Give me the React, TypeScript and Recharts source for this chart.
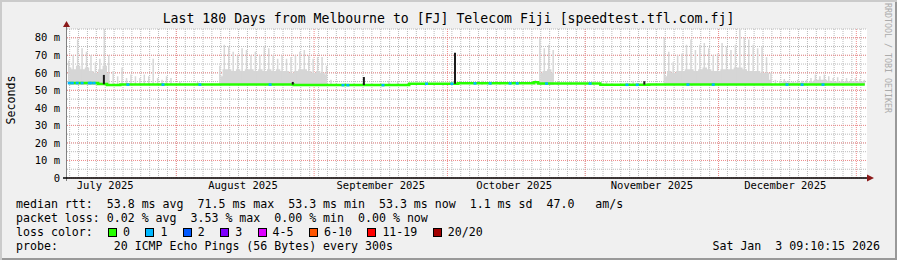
import { ComposedChart, Area, Bar, Line, Scatter, XAxis, YAxis, CartesianGrid, ReferenceLine } from 'recharts';

// time axis is in days since the start of the window (Jul 7 2025 09:10)
const monthLabels = ['July 2025', 'August 2025', 'September 2025', 'October 2025', 'November 2025', 'December 2025'];
const monthMid = [8.6, 39.6, 70.6, 100.6, 131.6, 161.6];
const monthStart = [24.6, 55.6, 85.6, 116.6, 146.6, 177.6];
const yTicks = [0, 10, 20, 30, 40, 50, 60, 70, 80];

// median rtt per day (ms)
const medianRtt = [
  54.2, 54.2, 54.2, 54.2, 54.2, 54.2, 54.2, 53.6, 53.6, 53.0,
  53.0, 53.0, 53.3, 53.3, 53.3, 53.3, 53.3, 53.3, 53.3, 53.3,
  53.3, 53.3, 53.3, 53.3, 53.3, 53.3, 53.3, 53.3, 53.3, 53.3,
  53.3, 53.3, 53.3, 53.3, 53.3, 53.3, 53.3, 53.3, 53.3, 53.3,
  53.3, 53.3, 53.3, 53.3, 53.3, 53.3, 53.3, 53.3, 53.3, 53.3,
  53.3, 53.0, 53.0, 53.0, 53.0, 53.0, 53.0, 53.0, 53.0, 53.0,
  53.0, 53.0, 53.0, 53.0, 53.0, 53.0, 53.0, 53.0, 53.0, 53.0,
  53.0, 53.0, 53.0, 53.0, 53.0, 53.0, 53.0, 53.8, 53.8, 53.8,
  53.8, 53.8, 53.8, 53.8, 53.8, 53.8, 53.8, 53.8, 54.0, 54.0,
  54.0, 54.0, 54.0, 54.0, 54.0, 54.0, 54.0, 54.0, 54.0, 54.0,
  54.0, 54.0, 54.0, 54.0, 54.0, 54.6, 53.9, 53.9, 53.9, 53.9,
  53.9, 53.9, 53.9, 53.9, 53.9, 53.9, 53.9, 53.9, 53.9, 53.9,
  53.2, 53.2, 53.2, 53.2, 53.2, 53.2, 53.2, 53.2, 53.2, 53.2,
  53.2, 53.3, 53.3, 53.3, 53.3, 53.3, 53.3, 53.3, 53.3, 53.3,
  53.3, 53.3, 53.3, 53.3, 53.3, 53.3, 53.3, 53.3, 53.3, 53.3,
  53.3, 53.3, 53.3, 53.3, 53.3, 53.3, 53.3, 53.3, 53.3, 53.3,
  53.3, 53.3, 53.3, 53.3, 53.3, 53.3, 53.3, 53.3, 53.3, 53.3,
  53.3, 53.3, 53.3, 53.3, 53.3, 53.3, 53.3, 53.3, 53.3, 53.3,
];

// dense part of the smoke per day (ms)
const smokeBody = [
  63, 62, 64, 62, 63, 61, 60, 62, 64, 60,
  null, null, null, null, null, null, null, null, null, null,
  null, null, null, null, null, null, null, null, null, null,
  null, null, null, null, 58, 62, 62, 61, 62, 61,
  62, 62, 61, 62, 61, 62, 61, 62, 61, 61,
  60, 61, 62, 62, 61, 60, 61, 60, 59, null,
  null, null, null, null, null, null, null, null, null, null,
  null, null, null, null, null, null, null, null, null, null,
  null, null, null, null, null, null, null, null, null, null,
  null, null, null, null, null, null, null, null, null, null,
  null, null, null, null, null, null, 60, 61, 62, 60,
  null, null, null, null, null, null, null, null, null, null,
  null, null, null, null, null, null, null, null, null, null,
  null, null, null, null, 58, 61, 60, 61, 61, 62,
  62, 61, 62, 63, 62, 61, 61, 62, 62, 62,
  63, 63, 62, 61, 61, 61, 60, 60, 56, null,
  54.5, 55, 54.5, 54.5, 54.5, 54.5, 54.5, 55, 56, 56,
  56, 55.5, 55, 55, 55, 55, 55, 55, 55, 55,
];

// highest smoke spike per day (ms)
const smokePeak = [
  67, 70, 79, 74, 72, 70, 66, 68, 85, 70,
  61, 58, 63, 57, 59, 58, 57, 59, 58, 68,
  57, 56, 58, 57, null, 55, null, null, null, 55,
  null, null, null, null, 64, 76, 75, 72, 70, 74,
  73, 70, 72, 70, 75, 74, 70, 68, 70, 68,
  69, 70, 72, 73, 70, 68, 69, 69, 64, 56,
  null, null, null, null, null, null, null, null, null, null,
  null, null, 55.5, null, 55, null, null, null, null, null,
  null, null, null, null, null, null, null, null, null, null,
  null, null, null, 55.5, null, 55, null, 55.5, null, null,
  null, null, null, null, null, 56, 80, 74, 76, 73,
  55, null, null, 55, null, null, null, null, 55.2, null,
  null, 55, null, null, null, null, null, 55.5, null, null,
  null, null, null, null, 80, 72, 66, 70, 71, 76,
  79, 73, 76, 77, 74, 70, 71, 77, 75, 73,
  76, 85, 80, 79, 76, 74, 75, 69, 60, 56,
  55.5, 56.5, 55.5, 55, 56, 55.5, 56, 57, 59, 58,
  59, 58, 57, 57.5, 56.5, 57, 56.5, 57, 56.5, 56,
];
const smokeFloor = 53;

// samples where the median was drawn in the 1-loss colour
const lossOneDays = [0.5, 1.2, 2.3, 3.4, 5.0, 5.4, 6.1, 13.7, 21.6, 29.9, 45.7, 62.1, 63.2, 71.1, 80.9,
  86.6, 91.8, 95.2, 99.7, 101.3, 107.9, 117.7, 126.0, 128.3, 139.7, 145.4, 162.0, 165.4, 170.1];

// dark median spikes: day, from, to (ms)
const darkSpikes = [
  { day: 8.3, lo: 53.5, hi: 58.8 },
  { day: 50.8, lo: 53.3, hi: 54.8 },
  { day: 66.8, lo: 53.0, hi: 57.6 },
  { day: 87.3, lo: 53.8, hi: 71.5 },
  { day: 129.9, lo: 53.3, hi: 55.2 },
];

const lossColors = [
  { label: '0', color: '#26ff00' },
  { label: '1', color: '#00b8ff' },
  { label: '2', color: '#0059ff' },
  { label: '3', color: '#7e00ff' },
  { label: '4-5', color: '#dd00ff' },
  { label: '6-10', color: '#ff5500' },
  { label: '11-19', color: '#ff0000' },
  { label: '20/20', color: '#a10000' },
];

const chartData = medianRtt.map((m, d) => ({
  x: d + 0.5,
  median: m,
  body: smokeBody[d] == null ? null : [smokeFloor, smokeBody[d]],
  peak: smokePeak[d] == null ? null : [smokeFloor, smokePeak[d]],
}));

const speckData = lossOneDays.map((d) => ({ x: d, y: medianRtt[Math.floor(d)], color: lossColors[1].color }));

const minorDays: number[] = [];
for (let d = 0.6; d < 180; d += 2) minorDays.push(d);
const minorMs: number[] = [];
for (let v = 5; v <= 85; v += 5) minorMs.push(v);

// legend item positions: box, gap, label, gap
const lossItemLeft: number[] = [];
{
  let left = 108;
  for (const l of lossColors) {
    lossItemLeft.push(left);
    left += 15 + 7 * l.label.length + 15.4;
  }
}

const mono = '"DejaVu Sans Mono", monospace';
const smokeGray = '#d6d6d6';

export default function App() {
  return (
    <div
      style={{
        position: 'absolute',
        left: 0,
        top: 0,
        width: 897,
        height: 260,
        background: '#f0f0f0',
        boxShadow: 'inset 2px 2px 0 #cbcbcb, inset -2px -2px 0 #999999',
        fontFamily: mono,
        color: '#000',
        overflow: 'hidden',
      }}
    >
      <ComposedChart
        width={897}
        height={260}
        data={chartData}
        margin={{ top: 29, right: 30, bottom: 0, left: 7 }}
        style={{ position: 'absolute', left: 0, top: 0 }}
      >
        <CartesianGrid
          fill="#ffffff"
          stroke="#bababa"
          strokeDasharray="1 1"
          horizontalValues={minorMs}
          verticalValues={minorDays}
        />
        <CartesianGrid stroke="#f08c8c" strokeDasharray="1 1" horizontalValues={yTicks} verticalValues={monthStart} />
        <XAxis
          dataKey="x"
          type="number"
          domain={[0, 180]}
          ticks={monthMid}
          tickFormatter={(v) => monthLabels[monthMid.indexOf(v)]}
          tick={{ fontSize: 10.5, fontFamily: mono, fill: '#000' }}
          tickLine={false}
          tickSize={4}
          tickMargin={0}
          axisLine={false}
          height={82}
          interval={0}
        />
        <XAxis xAxisId="s" dataKey="x" type="number" domain={[0, 180]} hide />
        <YAxis
          type="number"
          domain={[0, 85]}
          ticks={yTicks}
          tickFormatter={(v) => (v === 0 ? '0' : `${v} m`)}
          tick={{ fontSize: 10.5, fontFamily: mono, fill: '#000' }}
          tickLine={false}
          tickSize={7}
          tickMargin={0}
          axisLine={false}
          width={60}
          interval={0}
        />
        <Area
          dataKey="body"
          type="step"
          stroke="none"
          fill={smokeGray}
          fillOpacity={1}
          isAnimationActive={false}
        />
        <Bar dataKey="peak" fill={smokeGray} barSize={1.5} isAnimationActive={false} />
        <Line
          dataKey="median"
          type="step"
          stroke="#26ff00"
          strokeWidth={2.5}
          dot={false}
          isAnimationActive={false}
        />
        <Scatter
          xAxisId="s"
          data={speckData}
          dataKey="y"
          isAnimationActive={false}
          shape={(p: any) => <rect x={p.cx - 1.5} y={p.cy - 1.2} width={3} height={2.5} fill={p.payload.color} />}
        />
        {darkSpikes.map((s) => (
          <ReferenceLine
            key={s.day}
            xAxisId="s"
            segment={[{ x: s.day, y: s.lo }, { x: s.day, y: s.hi }]}
            stroke="#1a1a1a"
            strokeWidth={2}
          />
        ))}
      </ComposedChart>

      {/* axes with their arrows */}
      <svg width={897} height={260} style={{ position: 'absolute', left: 0, top: 0, pointerEvents: 'none' }}>
        <line x1={66.5} y1={26} x2={66.5} y2={181} stroke="#808080" />
        <line x1={63} y1={178} x2={868} y2={178} stroke="#000" strokeWidth={1.5} />
        <polygon points="63,27 70,27 66.5,21" fill="#8b1a1a" />
        <polygon points="867,174.5 867,181.5 874,178" fill="#8b1a1a" />
      </svg>

      <div
        style={{
          position: 'absolute',
          left: 0,
          width: 897,
          top: 11,
          textAlign: 'center',
          fontSize: 13.2,
          lineHeight: '16px',
          whiteSpace: 'pre',
        }}
      >
        Last 180 Days from Melbourne to [FJ] Telecom Fiji [speedtest.tfl.com.fj]
      </div>

      <div
        style={{
          position: 'absolute',
          left: 11,
          top: 100,
          transform: 'translate(-50%, -50%) rotate(-90deg)',
          fontSize: 11.6,
          whiteSpace: 'pre',
        }}
      >
        Seconds
      </div>

      <div
        style={{
          position: 'absolute',
          left: 888,
          top: 58,
          transform: 'translate(-50%, -50%) rotate(90deg)',
          fontSize: 8.3,
          color: '#ababab',
          whiteSpace: 'pre',
        }}
      >
        RRDTOOL / TOBI OETIKER
      </div>

      <div style={{ position: 'absolute', left: 16, top: 197, fontSize: 11.6, lineHeight: '14px', whiteSpace: 'pre' }}>
        <div>median rtt:  53.8 ms avg  71.5 ms max  53.3 ms min  53.3 ms now  1.1 ms sd  47.0   am/s</div>
        <div>packet loss: 0.02 % avg  3.53 % max  0.00 % min  0.00 % now</div>
        <div>loss color:</div>
        <div>probe:        20 ICMP Echo Pings (56 Bytes) every 300s</div>
      </div>

      {lossColors.map((l, i) => (
        <div
          key={l.label}
          style={{
            position: 'absolute',
            left: lossItemLeft[i],
            top: 225,
            height: 14,
            display: 'flex',
            alignItems: 'center',
            fontSize: 11.6,
            whiteSpace: 'pre',
          }}
        >
          <span
            style={{
              display: 'inline-block',
              boxSizing: 'border-box',
              width: 9,
              height: 9,
              background: l.color,
              border: '1px solid #000',
              marginRight: 6,
            }}
          />
          <span>{l.label}</span>
        </div>
      ))}

      <div style={{ position: 'absolute', right: 17, top: 239, fontSize: 11.6, lineHeight: '14px', whiteSpace: 'pre' }}>
        Sat Jan  3 09:10:15 2026
      </div>
    </div>
  );
}
